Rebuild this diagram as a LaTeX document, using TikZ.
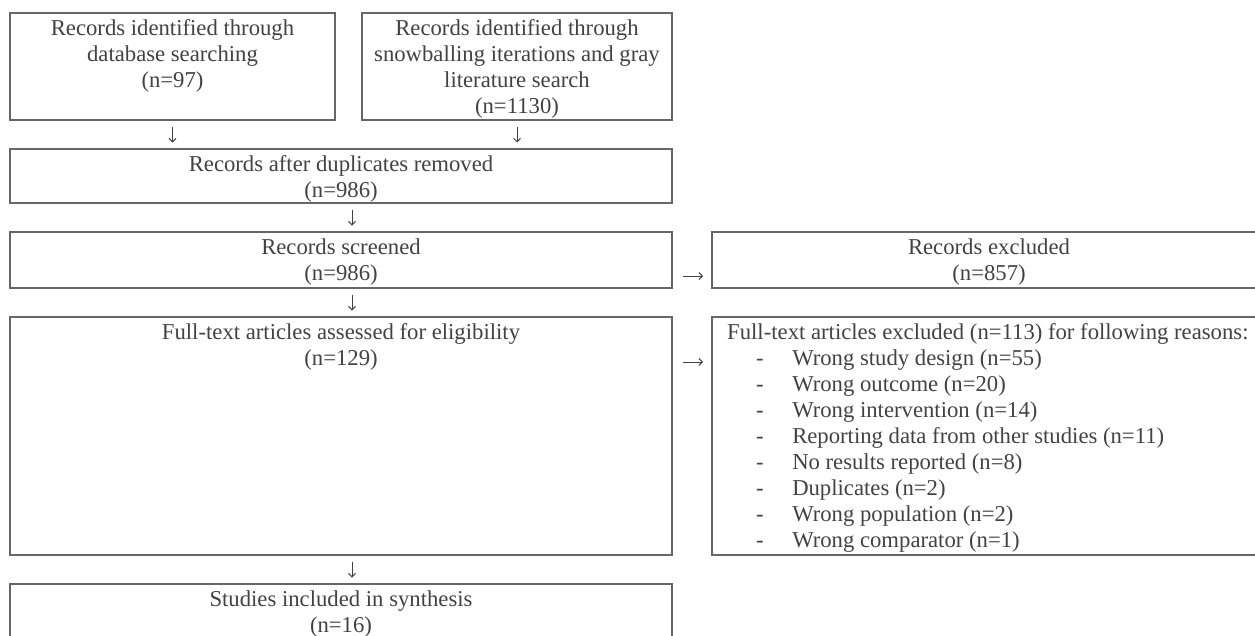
\documentclass[tikz,border=0pt]{standalone}
\usepackage{fontspec}
\setmainfont{Liberation Serif}
\usetikzlibrary{arrows.meta}

\definecolor{boxgray}{HTML}{666666}
\definecolor{textgray}{HTML}{424242}
\newcommand{\reasonitem}[1]{\hspace*{29pt}-\hspace*{28.5pt}#1}

\begin{document}
\begin{tikzpicture}[x=1pt, y=1pt,
    box/.style={draw=boxgray, line width=1.1pt, inner sep=0pt, outer sep=0pt, anchor=north west},
    boxtext/.style={font=\fontsize{22.7}{26}\selectfont, text=textgray, align=center, inner sep=6.5pt, anchor=north},
    flow/.style={draw=textgray, line width=0.9pt, -{Straight Barb[length=3.5pt,width=7pt]}, shorten <=6.5pt, shorten >=6.5pt}]

    % Page
    \clip (0,0) rectangle (1255,-635);

    % Identification
    \node[box, minimum width=325, minimum height=107] (database) at (10,-13) {};
    \node[boxtext] (databasetext) at (database.north) {Records identified through\\database searching\\(n=97)};
    \node[box, minimum width=310, minimum height=107] (snowball) at (362,-13) {};
    \node[boxtext] (snowballtext) at (snowball.north) {Records identified through\\snowballing iterations and gray\\literature search\\(n=1130)};

    % Screening
    \node[box, minimum width=662, minimum height=54] (dedup) at (10,-149) {};
    \node[boxtext] (deduptext) at (dedup.north) {Records after duplicates removed\\(n=986)};
    \node[box, minimum width=662, minimum height=56] (screened) at (10,-232) {};
    \node[boxtext] (screenedtext) at (screened.north) {Records screened\\(n=986)};
    \node[box, minimum width=554, minimum height=56] (excluded) at (712,-232) {};
    \node[boxtext] (excludedtext) at (excluded.north) {Records excluded\\(n=857)};

    % Eligibility
    \node[box, minimum width=662, minimum height=238] (fulltext) at (10,-317) {};
    \node[boxtext] (fulltexttext) at (fulltext.north) {Full-text articles assessed for eligibility\\(n=129)};
    \node[box, minimum width=554, minimum height=238] (reasons) at (712,-317) {};
    \node[boxtext, align=left, anchor=north west] (reasonstext) at ([xshift=8.5pt]reasons.north west) {Full-text articles excluded (n=113) for following reasons:\\
        \reasonitem{Wrong study design (n=55)}\\
        \reasonitem{Wrong outcome (n=20)}\\
        \reasonitem{Wrong intervention (n=14)}\\
        \reasonitem{Reporting data from other studies (n=11)}\\
        \reasonitem{No results reported (n=8)}\\
        \reasonitem{Duplicates (n=2)}\\
        \reasonitem{Wrong population (n=2)}\\
        \reasonitem{Wrong comparator (n=1)}};

    % Included
    \node[box, minimum width=662, minimum height=90] (included) at (10,-584) {};
    \node[boxtext] (includedtext) at (included.north) {Studies included in synthesis\\(n=16)};

    % Arrows
    \draw[flow] (database.south) -- (database.south |- dedup.north);
    \draw[flow] (snowball.south) -- (snowball.south |- dedup.north);
    \draw[flow] ([xshift=11pt]dedup.south) -- ([xshift=11pt]screened.north);
    \draw[flow, shorten <=11pt, shorten >=9pt] ([yshift=-16pt]screened.east) -- ([yshift=-16pt]excluded.west);
    \draw[flow] ([xshift=11pt]screened.south) -- ([xshift=11pt]fulltext.north);
    \draw[flow, shorten <=11pt, shorten >=9pt] ([yshift=-45pt]fulltext.north east) -- ([yshift=-45pt]reasons.north west);
    \draw[flow] ([xshift=11pt]fulltext.south) -- ([xshift=11pt]included.north);

\end{tikzpicture}
\end{document}
